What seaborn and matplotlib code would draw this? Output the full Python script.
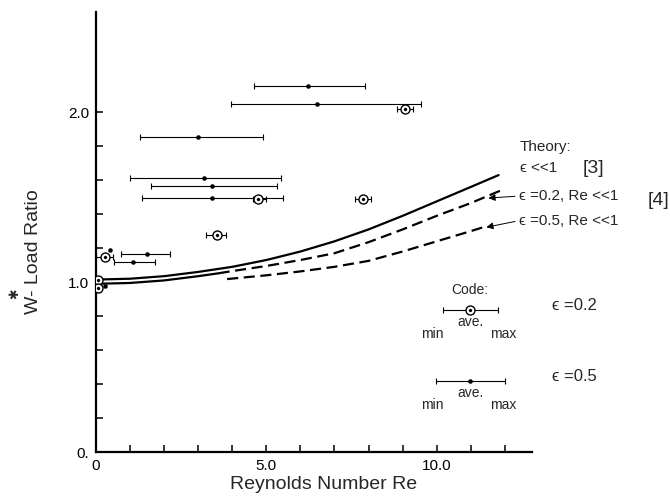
import pandas as pd
import seaborn as sns
import matplotlib.pyplot as plt

# eps = 0.5 measurements (dots): average Re, min / max Re, load ratio
re05_ave = [6.21, 6.5, 3.0, 3.18, 3.4, 3.4, 1.5, 1.09]
re05_min = [4.65, 3.97, 1.29, 1.0, 1.62, 1.35, 0.74, 0.53]
re05_max = [7.91, 9.53, 4.91, 5.44, 5.32, 5.5, 2.18, 1.74]
w05 = [2.153, 2.05, 1.853, 1.61, 1.565, 1.494, 1.165, 1.118]
re05_single = [0.41, 0.26]
w05_single = [1.19, 0.98]

# eps = 0.2 measurements (circled dots)
re02_ave = [9.06, 4.77, 7.85, 3.56, 0.25]
re02_min = [8.85, 4.6, 7.6, 3.22, 0.0]
re02_max = [9.32, 4.98, 8.06, 3.82, 0.5]
w02 = [2.02, 1.49, 1.49, 1.276, 1.15]
re02_single = [0.06, 0.06]
w02_single = [1.01, 0.965]

# theory curves
th1_re = [0, 1, 2, 3, 4, 5, 6, 7, 8, 9, 10, 11, 11.82]
th1_w = [1.015, 1.02, 1.035, 1.06, 1.09, 1.13, 1.18, 1.24, 1.31, 1.39, 1.475, 1.56, 1.63]
th2_re = [0, 1, 2, 3, 3.6, 4, 5, 6, 7, 8, 9, 10, 11, 11.95]
th2_w = [0.99, 0.995, 1.01, 1.035, 1.052, 1.065, 1.095, 1.13, 1.17, 1.235, 1.31, 1.39,
         1.465, 1.545]
th3_re = [3.85, 5, 6, 7, 8, 9, 10, 11, 11.4]
th3_w = [1.018, 1.04, 1.063, 1.09, 1.125, 1.18, 1.24, 1.30, 1.325]

# "Code:" key samples
code_ave = [10.97, 10.97]
code_min = [10.2, 9.97]
code_max = [11.8, 12.0]
code_w = [0.835, 0.418]

xtick_labels = ["0", "", "", "", "", "5.0", "", "", "", "", "10.0", "", ""]
ytick_labels = ["0.", "", "", "", "", "1.0", "", "", "", "", "2.0"]

sns.set_theme(style="white")
plt.rcParams["font.family"] = ["Liberation Sans", "DejaVu Sans"]

fig = plt.figure(figsize=(6.7, 4.98), dpi=100)
ax = fig.add_axes([96 / 670, 46 / 498, 436 / 670, 440 / 498])

# theory curves
th2 = pd.DataFrame({"Re": th2_re, "W": th2_w})
sns.lineplot(x=th1_re, y=th1_w, ax=ax, color="black", lw=1.6, sort=False)
sns.lineplot(data=th2[th2.Re <= 3.6], x="Re", y="W", ax=ax, color="black", lw=1.6)
sns.lineplot(data=th2[th2.Re >= 3.6], x="Re", y="W", ax=ax, color="black", lw=1.6,
             linestyle=(0, (5, 2.5)))
sns.lineplot(x=th3_re, y=th3_w, ax=ax, color="black", lw=1.6, linestyle=(0, (5, 2.5)))

# error bars (min / max)
def ranges(ave, lo, hi, w):
    ax.errorbar(ave, w, xerr=[[a - l for a, l in zip(ave, lo)], [h - a for a, h in zip(ave, hi)]],
                fmt="none", ecolor="black", elinewidth=0.8, capsize=2.4, capthick=0.8)

ranges(re05_ave, re05_min, re05_max, w05)
ranges(re02_ave, re02_min, re02_max, w02)
ranges(code_ave, code_min, code_max, code_w)

# markers
dots_x = re05_ave + re05_single + [code_ave[1]]
dots_y = w05 + w05_single + [code_w[1]]
sns.scatterplot(x=dots_x, y=dots_y, ax=ax, color="black", s=9, edgecolor="black", zorder=4)
circ_x = re02_ave + re02_single + [code_ave[0]]
circ_y = w02 + w02_single + [code_w[0]]
sns.scatterplot(x=circ_x, y=circ_y, ax=ax, color="white", s=42, edgecolor="black",
                linewidth=1.0, zorder=4)
sns.scatterplot(x=circ_x, y=circ_y, ax=ax, color="black", s=5, edgecolor="black", zorder=5)

# arrows to curves
arrow = dict(arrowstyle="-|>", color="black", lw=0.7, mutation_scale=10)
ax.annotate("", xy=(11.44, 1.494), xytext=(12.38, 1.506), arrowprops=arrow)
ax.annotate("", xy=(11.38, 1.32), xytext=(12.38, 1.36), arrowprops=arrow)

# theory labels
ax.text(12.45, 1.794, "Theory:", fontsize=11, va="center")
ax.text(12.45, 1.67, "ϵ <<1", fontsize=11, va="center")
ax.text(14.3, 1.67, "[3]", fontsize=14, va="center")
ax.text(12.42, 1.506, "ϵ =0.2, Re <<1", fontsize=11, va="center")
ax.text(12.42, 1.36, "ϵ =0.5, Re <<1", fontsize=11, va="center")
ax.text(16.2, 1.48, "[4]", fontsize=14, va="center")

# code key labels
ax.text(10.98, 0.953, "Code:", fontsize=10, ha="center", va="center")
for w, eps in zip(code_w, ["ϵ =0.2", "ϵ =0.5"]):
    ax.text(10.98, w - 0.072, "ave.", fontsize=10, ha="center", va="center")
    ax.text(9.87, w - 0.141, "min", fontsize=10, ha="center", va="center")
    ax.text(11.95, w - 0.141, "max", fontsize=10, ha="center", va="center")
    ax.text(13.39, w + 0.025, eps, fontsize=12, va="center")

ax.set_xlim(0, 12.8)
ax.set_ylim(0, 2.59)
ax.set_xticks(range(13))
ax.set_xticklabels(xtick_labels)
ax.set_yticks([i * 0.2 for i in range(11)])
ax.set_yticklabels(ytick_labels)
ax.tick_params(direction="in", length=5, width=1.1, labelsize=11, colors="black", pad=5)
ax.tick_params(axis="x", bottom=True)
ax.tick_params(axis="y", left=True)
sns.despine(ax=ax)
for side in ["left", "bottom"]:
    ax.spines[side].set_color("black")
    ax.spines[side].set_linewidth(1.6)
ax.set_xlabel("")
ax.set_ylabel("")

fig.text(324 / 670, 1 - 484 / 498, "Reynolds Number Re", fontsize=14, ha="center", va="center")
fig.text(33 / 670, 1 - 252 / 498, "W- Load Ratio", fontsize=14, rotation=90,
         ha="center", va="center")
fig.text(15 / 670, 1 - 294 / 498, "✱", fontsize=9, rotation=90, ha="center", va="center",
         family="DejaVu Sans")

fig.savefig("out.png", dpi=100)
